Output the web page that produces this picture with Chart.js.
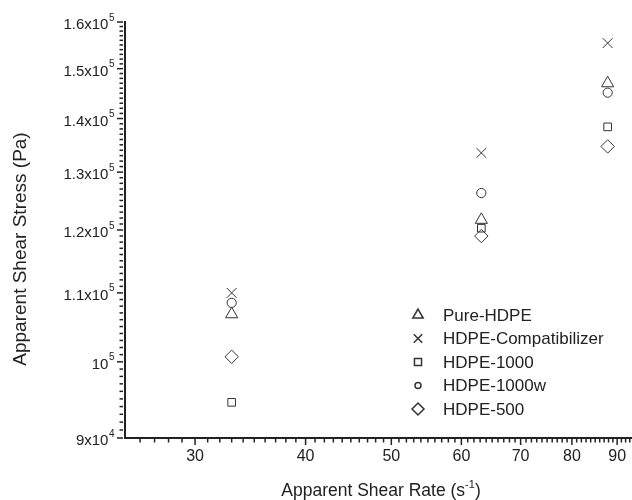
<!DOCTYPE html>
<html>
<head>
<meta charset="utf-8">
<script src="https://cdn.jsdelivr.net/npm/chart.js@4/dist/chart.umd.min.js"></script>
<style>
  html, body { margin: 0; padding: 0; background: #fff; }
  #wrap { width: 632px; height: 500px; }
</style>
</head>
<body>
<div id="wrap"><canvas id="myChart" width="632" height="500"></canvas></div>
<script>
// shear rate (1/s) for each capillary run
const shearRate = [33.0, 63.2, 87.8];

// apparent shear stress (Pa) per material
const pureHDPE = [106800, 121700, 147000];
const hdpeCompatibilizer = [110000, 133500, 155400];
const hdpe1000 = [94550, 120300, 138400];
const hdpe1000w = [108500, 126300, 145100];
const hdpe500 = [100700, 119000, 134700];

const seriesNames = ['Pure-HDPE', 'HDPE-Compatibilizer', 'HDPE-1000', 'HDPE-1000w', 'HDPE-500'];
const seriesValues = [pureHDPE, hdpeCompatibilizer, hdpe1000, hdpe1000w, hdpe500];

// axis ticks
const xMajorTicks = [30, 40, 50, 60, 70, 80, 90];
const yMajorTicks = [90000, 100000, 110000, 120000, 130000, 140000, 150000, 160000];

const FONT = '"Liberation Sans", Arial, sans-serif';
const INK = '#222';

// marker look for each series
const markers = [
  { style: 'triangle', r: 7, legendR: 6 },
  { style: 'crossRot', r: 7, legendR: 6 },
  { style: 'rect', r: 5.4, legendR: 5 },
  { style: 'circle', r: 4.6, legendR: 3 },
  { style: 'rectRot', r: 6.7, legendR: 6 }
];

const datasets = seriesNames.map((name, i) => ({
  label: name,
  data: shearRate.map((x, j) => ({ x: x, y: seriesValues[i][j] })),
  showLine: false,
  pointStyle: markers[i].style,
  pointRadius: markers[i].r,
  pointHoverRadius: markers[i].r,
  pointBorderWidth: 1,
  pointBorderColor: '#333',
  pointBackgroundColor: 'rgba(0,0,0,0)'
}));

// y labels like 1.2x10^5 with a raised exponent
function yLabelParts(v) {
  const exp = Math.floor(Math.log10(v) + 1e-9);
  const mant = v / Math.pow(10, exp);
  let base;
  if (Math.abs(mant - 1) < 1e-9) base = '10';
  else if (Math.abs(mant - Math.round(mant)) < 1e-9) base = Math.round(mant) + 'x10';
  else base = mant.toFixed(1) + 'x10';
  return { base: base, sup: String(exp) };
}

function drawMarker(ctx, style, r, x, y) {
  if (Chart.helpers && Chart.helpers.drawPoint) {
    Chart.helpers.drawPoint(ctx, { pointStyle: style, radius: r, rotation: 0, borderWidth: 1 }, x, y);
  }
}

const axisDecor = {
  id: 'axisDecor',
  afterDraw(chart) {
    const { ctx, chartArea: area, scales: { x, y } } = chart;
    ctx.save();
    ctx.strokeStyle = INK;
    ctx.lineWidth = 1.5;

    // y ticks every 1000 Pa, longer at every 10^4
    for (let k = 90; k <= 160; k++) {
      const v = k * 1000;
      const py = y.getPixelForValue(v);
      const len = (k % 10 === 0) ? 6 : 3.5;
      ctx.beginPath();
      ctx.moveTo(area.left - 2, py);
      ctx.lineTo(area.left - 2 - len, py);
      ctx.stroke();
    }
    // x ticks every 1 s^-1, longer at every 10
    for (let k = 26; k <= 93; k++) {
      const px = x.getPixelForValue(k);
      const len = (k % 10 === 0) ? 6 : 3.5;
      ctx.beginPath();
      ctx.moveTo(px, area.bottom + 1);
      ctx.lineTo(px, area.bottom + 1 + len);
      ctx.stroke();
    }

    ctx.fillStyle = INK;

    // x tick labels
    ctx.font = '16px ' + FONT;
    ctx.textAlign = 'center';
    ctx.textBaseline = 'middle';
    xMajorTicks.forEach(v => {
      ctx.fillText(String(v), x.getPixelForValue(v), area.bottom + 19);
    });

    // y tick labels with superscript exponent
    ctx.textBaseline = 'alphabetic';
    ctx.textAlign = 'left';
    yMajorTicks.forEach(v => {
      const p = yLabelParts(v);
      const py = y.getPixelForValue(v);
      ctx.font = '15px ' + FONT;
      const wb = ctx.measureText(p.base).width;
      ctx.font = '10px ' + FONT;
      const ws = ctx.measureText(p.sup).width;
      const right = 114.5;
      const left = right - wb - ws - 0.5;
      ctx.font = '15px ' + FONT;
      ctx.fillText(p.base, left, py + 7);
      ctx.font = '10px ' + FONT;
      ctx.fillText(p.sup, left + wb + 0.5, py - 1.5);
    });

    // x axis title: Apparent Shear Rate (s^-1)
    ctx.font = '17.5px ' + FONT;
    const t1 = 'Apparent Shear Rate (s';
    const t3 = ')';
    const w1 = ctx.measureText(t1).width;
    const w3 = ctx.measureText(t3).width;
    ctx.font = '11px ' + FONT;
    const w2 = ctx.measureText('-1').width;
    const cx = 381;
    let tx = cx - (w1 + w2 + w3) / 2;
    const base = 496;
    ctx.font = '17.5px ' + FONT;
    ctx.fillText(t1, tx, base);
    ctx.font = '11px ' + FONT;
    ctx.fillText('-1', tx + w1, base - 8);
    ctx.font = '17.5px ' + FONT;
    ctx.fillText(t3, tx + w1 + w2, base);

    // y axis title
    ctx.save();
    ctx.translate(26, 249);
    ctx.rotate(-Math.PI / 2);
    ctx.font = '19px ' + FONT;
    ctx.textAlign = 'center';
    ctx.fillText('Apparent Shear Stress (Pa)', 0, 0);
    ctx.restore();

    // legend inside the plot
    const legX = 418, legTextX = 443, legY0 = 315, legStep = 23.5;
    seriesNames.forEach((name, i) => {
      const ly = legY0 + i * legStep;
      ctx.strokeStyle = '#333';
      ctx.fillStyle = 'rgba(0,0,0,0)';
      drawMarker(ctx, markers[i].style, markers[i].legendR, legX, ly);
      ctx.fillStyle = INK;
      ctx.font = '17px ' + FONT;
      ctx.textAlign = 'left';
      ctx.textBaseline = 'middle';
      ctx.fillText(name, legTextX, ly + 1);
    });

    ctx.restore();
  }
};

let ctx = document.getElementById('myChart').getContext('2d');
let myChart = new Chart(ctx, {
  type: 'scatter',
  data: { datasets: datasets },
  options: {
    responsive: false,
    animation: false,
    devicePixelRatio: 1,
    layout: { autoPadding: false, padding: { top: 22, right: 1, left: 0, bottom: 0 } },
    plugins: {
      legend: { display: false },
      tooltip: { enabled: false }
    },
    scales: {
      x: {
        type: 'logarithmic',
        min: 25,
        max: 93.3,
        grid: { display: false },
        border: { display: true, color: INK, width: 2 },
        ticks: { display: false },
        afterBuildTicks: scale => { scale.ticks = xMajorTicks.map(v => ({ value: v })); },
        afterFit: scale => { scale.height = 62; }
      },
      y: {
        type: 'logarithmic',
        min: 90000,
        max: 160000,
        grid: { display: false },
        border: { display: true, color: INK, width: 2 },
        ticks: { display: false },
        afterBuildTicks: scale => { scale.ticks = yMajorTicks.map(v => ({ value: v })); },
        afterFit: scale => { scale.width = 125; }
      }
    }
  },
  plugins: [axisDecor]
});
</script>
</body>
</html>
